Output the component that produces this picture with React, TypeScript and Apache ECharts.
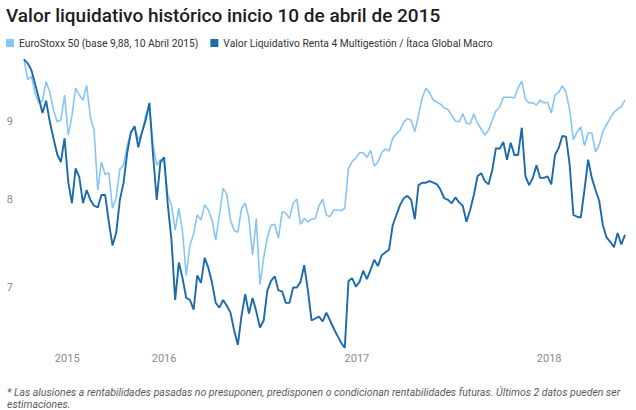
import React, { useEffect, useRef } from "react";
import * as echarts from "echarts";

const TITLE = "Valor liquidativo histórico inicio 10 de abril de 2015";
const SERIES_NAMES = [
  "EuroStoxx 50 (base 9,88, 10 Abril 2015)",
  "Valor Liquidativo Renta 4 Multigestión / Ítaca Global Macro",
];
const SERIES_COLORS = ["#86c5f7", "#1b6aab"];
const NOTE_LINES = [
  "* Las alusiones a rentabilidades pasadas no presuponen, predisponen o condicionan rentabilidades futuras. Últimos 2 datos pueden ser",
  "estimaciones.",
];

// weekly observations starting 10 April 2015
const START_DATE = [2015, 3, 10];
const STEP_DAYS = 7;

const euroValues = [
  9.88, 9.58, 9.63, 9.39, 9.25, 9.28, 9.55, 9.40, 9.15, 8.99,
  9.01, 9.36, 8.81, 9.07, 9.46, 9.36, 9.29, 9.50, 9.05, 8.88,
  8.11, 8.46, 8.30, 8.33, 7.89, 8.02, 8.37, 8.42, 8.68, 8.84,
  8.92, 8.75, 8.84, 9.08, 9.22, 8.68, 8.42, 8.49, 8.46, 8.05,
  7.93, 7.63, 7.89, 7.61, 7.13, 7.46, 7.59, 7.81, 7.75, 7.93,
  7.87, 7.75, 7.52, 7.81, 8.13, 8.06, 7.75, 7.63, 7.61, 7.89,
  7.95, 7.77, 7.35, 7.77, 7.03, 7.32, 7.55, 7.69, 7.70, 7.54,
  7.85, 7.83, 7.77, 7.95, 8.00, 7.70, 7.77, 7.73, 7.76, 7.77,
  7.92, 8.00, 7.81, 7.79, 7.87, 7.87, 7.86, 7.89, 8.38, 8.47,
  8.51, 8.58, 8.58, 8.52, 8.61, 8.41, 8.46, 8.58, 8.63, 8.60,
  8.77, 8.83, 8.88, 8.99, 9.03, 9.01, 8.86, 9.08, 9.32, 9.46,
  9.39, 9.29, 9.26, 9.23, 9.18, 9.16, 9.08, 9.00, 8.99, 9.10,
  8.97, 8.96, 9.10, 8.97, 8.89, 8.81, 8.88, 9.01, 9.14, 9.19,
  9.33, 9.33, 9.33, 9.32, 9.46, 9.56, 9.30, 9.25, 9.25, 9.22,
  9.29, 9.25, 9.26, 9.11, 9.36, 9.40, 9.49, 9.40, 9.15, 8.75,
  8.85, 8.92, 8.67, 8.84, 8.84, 8.59, 8.68, 8.86, 8.95, 9.04,
  9.12, 9.16, 9.20, 9.29,
];

const fundValues = [
  9.88, 9.82, 9.72, 9.52, 9.32, 9.11, 9.28, 8.99, 8.77, 8.56,
  8.46, 8.77, 8.21, 7.95, 8.38, 8.27, 7.95, 8.11, 7.99, 7.92,
  7.90, 8.05, 8.05, 7.73, 7.46, 7.60, 7.99, 8.20, 8.58, 8.85,
  8.93, 8.65, 8.85, 9.01, 9.25, 8.55, 7.99, 8.46, 8.52, 7.93,
  7.52, 6.87, 7.27, 7.10, 6.89, 6.87, 6.77, 7.13, 7.05, 7.32,
  7.21, 7.05, 6.84, 6.79, 6.87, 6.81, 6.74, 6.56, 6.42, 6.71,
  6.93, 6.73, 6.89, 6.75, 6.59, 6.66, 6.97, 7.07, 7.12, 6.97,
  6.96, 6.84, 6.84, 7.00, 7.00, 7.06, 7.24, 6.97, 6.66, 6.68,
  6.70, 6.65, 6.74, 6.66, 6.58, 6.51, 6.44, 6.39, 7.07, 7.10,
  7.01, 7.06, 7.18, 7.09, 7.19, 7.30, 7.23, 7.35, 7.38, 7.41,
  7.69, 7.81, 7.93, 8.01, 8.04, 7.99, 7.76, 8.17, 8.20, 8.20,
  8.22, 8.20, 8.18, 8.11, 8.01, 7.99, 7.95, 8.02, 7.96, 7.92,
  7.73, 7.87, 8.05, 8.28, 8.32, 8.22, 8.18, 8.36, 8.64, 8.63,
  8.72, 8.49, 8.71, 8.55, 8.55, 8.91, 8.28, 8.17, 8.26, 8.42,
  8.26, 8.26, 8.28, 8.18, 8.55, 8.64, 8.80, 8.79, 8.42, 7.81,
  7.79, 7.78, 8.11, 8.49, 8.26, 8.11, 7.98, 7.69, 7.55, 7.50,
  7.44, 7.60, 7.47, 7.58,
];

const yTickValues = [7, 8, 9];
const Y_RANGE = [6.37, 9.914];
const xTickDates = [
  [2015, 6, 1],
  [2016, 0, 1],
  [2017, 0, 1],
  [2018, 0, 1],
];
const xTickLabels = ["2015", "2016", "2017", "2018"];

export default function App() {
  const ref = useRef<HTMLDivElement>(null);

  useEffect(() => {
    if (!ref.current) return;
    const chart = echarts.init(ref.current, undefined, { renderer: "svg" });

    const dates = euroValues.map((_, i) =>
      new Date(START_DATE[0], START_DATE[1], START_DATE[2] + STEP_DAYS * i).getTime()
    );
    const tickTimes = xTickDates.map((d) => new Date(d[0], d[1], d[2]).getTime());
    const toLog = (arr: number[]) => arr.map((v, i) => [dates[i], Math.log(v)]);

    chart.setOption({
      animation: false,
      backgroundColor: "#ffffff",
      textStyle: { fontFamily: "Roboto" },
      title: {
        text: TITLE,
        left: 6,
        top: 6,
        padding: 0,
        textStyle: {
          fontFamily: "Roboto",
          fontSize: 19,
          fontWeight: 500,
          color: "#1d1d1d",
        },
      },
      legend: {
        data: SERIES_NAMES,
        left: 6,
        top: 38,
        padding: 0,
        icon: "rect",
        itemWidth: 8,
        itemHeight: 8,
        itemGap: 12,
        textStyle: { fontFamily: "Roboto", fontSize: 10.3, color: "#333333" },
      },
      grid: { left: 24, right: 11, top: 57, bottom: 60, containLabel: false },
      xAxis: {
        type: "value",
        min: dates[0],
        max: dates[dates.length - 1],
        axisLine: { show: false },
        axisTick: { show: false },
        splitLine: { show: false },
        axisLabel: {
          customValues: tickTimes,
          margin: 3,
          color: "#8a8a8a",
          fontSize: 11,
          fontFamily: "Roboto",
          showMinLabel: true,
          showMaxLabel: true,
          formatter: (v: number) => {
            const idx = tickTimes.findIndex((t) => Math.abs(t - v) < 86400000);
            return idx >= 0 ? xTickLabels[idx] : "";
          },
        },
      },
      yAxis: {
        type: "value",
        min: Math.log(Y_RANGE[0]),
        max: Math.log(Y_RANGE[1]),
        axisLine: { show: false },
        axisTick: { show: false },
        splitLine: { show: false },
        axisLabel: {
          customValues: yTickValues.map((v) => Math.log(v)),
          margin: 11,
          color: "#8a8a8a",
          fontSize: 11,
          fontFamily: "Roboto",
          formatter: (v: number) => String(Math.round(Math.exp(v))),
        },
      },
      series: [
        {
          name: SERIES_NAMES[0],
          type: "line",
          data: toLog(euroValues),
          showSymbol: false,
          symbol: "none",
          color: SERIES_COLORS[0],
          lineStyle: { width: 1.6, color: SERIES_COLORS[0] },
          z: 2,
        },
        {
          name: SERIES_NAMES[1],
          type: "line",
          data: toLog(fundValues),
          showSymbol: false,
          symbol: "none",
          color: SERIES_COLORS[1],
          lineStyle: { width: 1.9, color: SERIES_COLORS[1] },
          z: 3,
        },
      ],
      graphic: [
        {
          type: "text",
          left: 7,
          top: 386,
          style: {
            text: NOTE_LINES.join("\n"),
            fontFamily: "Roboto",
            fontSize: 10.5,
            fontStyle: "italic",
            lineHeight: 12.5,
            fill: "#5a5a5a",
          },
        },
      ],
    });

    return () => chart.dispose();
  }, []);

  return (
    <div
      ref={ref}
      style={{ position: "fixed", left: 0, top: 0, width: 636, height: 410, background: "#fff" }}
    />
  );
}
